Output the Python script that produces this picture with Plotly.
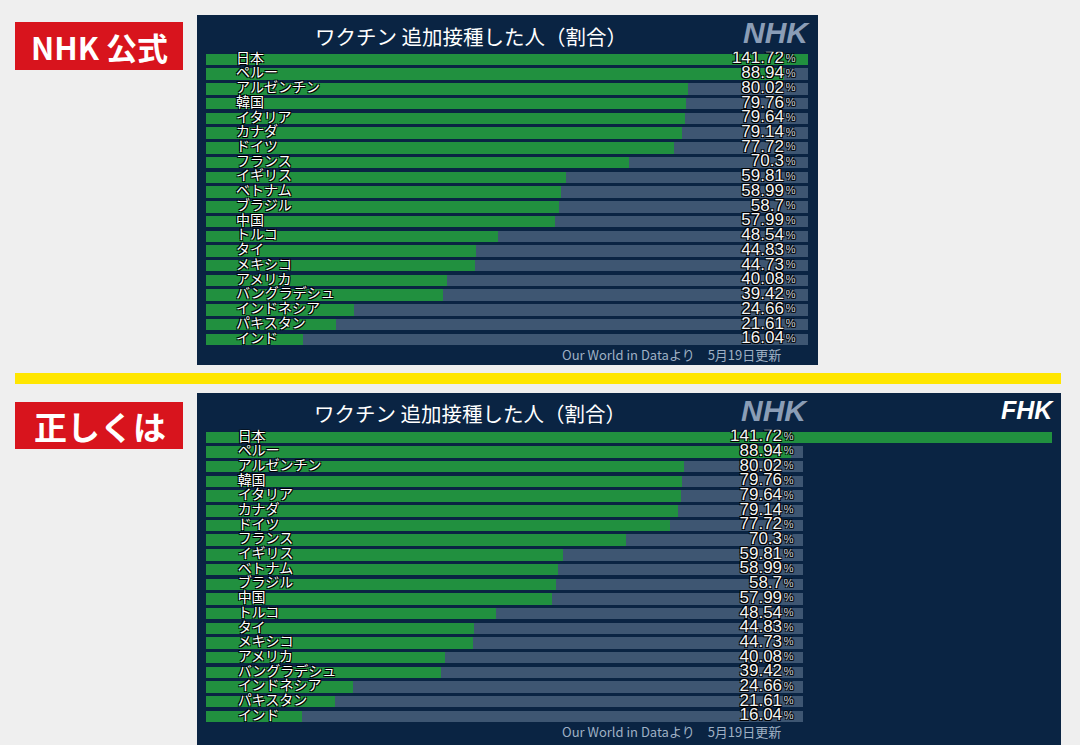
import plotly.graph_objects as go

W, H = 1080, 745

countries = ["日本", "ペルー", "アルゼンチン", "韓国", "イタリア", "カナダ", "ドイツ",
             "フランス", "イギリス", "ベトナム", "ブラジル", "中国", "トルコ", "タイ",
             "メキシコ", "アメリカ", "バングラデシュ", "インドネシア", "パキスタン", "インド"]
values = [141.72, 88.94, 80.02, 79.76, 79.64, 79.14, 77.72, 70.3, 59.81, 58.99,
          58.7, 57.99, 48.54, 44.83, 44.73, 40.08, 39.42, 24.66, 21.61, 16.04]
# bar lengths as actually drawn in each graphic (NHK capped Japan at 100)
drawn_top = [100, 96, 80.02, 79.76, 79.64, 79.14, 77.72, 70.3, 59.81, 58.99,
             58.7, 57.99, 48.54, 44.83, 44.73, 40.08, 39.42, 24.66, 21.61, 16.04]
drawn_bottom = [141.72, 98, 80.02, 79.76, 79.64, 79.14, 77.72, 70.3, 59.81, 58.99,
                58.7, 57.99, 48.54, 44.83, 44.73, 40.08, 39.42, 24.66, 21.61, 16.04]
track = [100] * len(countries)

NAVY = "#0a2443"
GREEN = "#21903f"
TRACK = "#3e5672"
JP = "Noto Sans CJK JP"
OUTLINE = "1px 1px 0 #000, -1px -1px 0 #000, 1px -1px 0 #000, -1px 1px 0 #000"


def px(x):
    return x / W


def py(y):
    return 1 - y / H


rows = list(range(len(countries)))
fig = go.Figure()


def add_chart(xa, ya, drawn, name_x, num_x, pct_x, track_rows):
    fig.add_trace(go.Bar(x=[track[i] for i in track_rows], y=track_rows, orientation="h",
                         marker=dict(color=TRACK, line=dict(width=0)), width=0.78,
                         xaxis=xa, yaxis=ya, hoverinfo="skip", showlegend=False))
    fig.add_trace(go.Bar(x=drawn, y=rows, orientation="h",
                         marker=dict(color=GREEN, line=dict(width=0)), width=0.78,
                         xaxis=xa, yaxis=ya, hoverinfo="skip", showlegend=False))
    fig.add_trace(go.Scatter(x=[name_x] * len(rows), y=rows, mode="text", text=countries,
                             textposition="middle right",
                             textfont=dict(family=JP, size=14, color="white", shadow=OUTLINE),
                             xaxis=xa, yaxis=ya, hoverinfo="skip", showlegend=False))
    fig.add_trace(go.Scatter(x=[num_x] * len(rows), y=rows, mode="text",
                             text=[f"{v:g}" for v in values], textposition="middle left",
                             textfont=dict(family="Liberation Sans Narrow, Liberation Sans", size=17,
                                           color="#f4f4f4", shadow=OUTLINE),
                             xaxis=xa, yaxis=ya, hoverinfo="skip", showlegend=False))
    fig.add_trace(go.Scatter(x=[pct_x] * len(rows), y=rows, mode="text",
                             text=["%"] * len(rows), textposition="middle right",
                             textfont=dict(family="Liberation Sans", size=11,
                                           color="#c9cfd6", shadow=OUTLINE),
                             xaxis=xa, yaxis=ya, hoverinfo="skip", showlegend=False))


# top: NHK official (track 0-100)
add_chart("x", "y", drawn_top, 5.0, 96.0, 96.3, rows)
# bottom: corrected (axis extends to show Japan's full bar)
add_chart("x2", "y2", drawn_bottom, 5.3, 96.5, 96.8, rows[1:])

shapes = [
    # panels
    dict(type="rect", xref="paper", yref="paper", x0=px(197), x1=px(818), y0=py(365), y1=py(15),
         fillcolor=NAVY, line=dict(width=0), layer="below"),
    dict(type="rect", xref="paper", yref="paper", x0=px(197), x1=px(1061), y0=py(745), y1=py(393),
         fillcolor=NAVY, line=dict(width=0), layer="below"),
    # yellow divider
    dict(type="rect", xref="paper", yref="paper", x0=px(15), x1=px(1061), y0=py(384), y1=py(373),
         fillcolor="#ffe600", line=dict(width=0)),
    # red labels
    dict(type="rect", xref="paper", yref="paper", x0=px(15), x1=px(183), y0=py(70), y1=py(22),
         fillcolor="#d8141d", line=dict(width=0)),
    dict(type="rect", xref="paper", yref="paper", x0=px(15), x1=px(183), y0=py(449), y1=py(402),
         fillcolor="#d8141d", line=dict(width=0)),
]

annotations = [
    dict(text="<b>NHK 公式</b>", x=px(99), y=py(46), font=dict(family=JP, size=31, color="white")),
    dict(text="<b>正しくは</b>", x=px(100), y=py(426), font=dict(family=JP, size=33, color="white")),
    dict(text="ワクチン 追加接種した人（割合）", x=px(471), y=py(36), font=dict(family=JP, size=20.5, color="white")),
    dict(text="ワクチン 追加接種した人（割合）", x=px(470), y=py(413), font=dict(family=JP, size=20.5, color="white")),
    dict(text="<b><i>NHK</i></b>", x=px(776), y=py(32),
         font=dict(family="Liberation Sans", size=30, color="#8a9db6")),
    dict(text="<b><i>NHK</i></b>", x=px(774), y=py(410),
         font=dict(family="Liberation Sans", size=30, color="#8a9db6")),
    dict(text="<b><i>FHK</i></b>", x=px(1027), y=py(410),
         font=dict(family="Liberation Sans", size=25, color="white")),
    dict(text="Our World in Dataより　5月19日更新", x=px(671), y=py(354),
         font=dict(family=JP, size=13, color="#9fb0c4")),
    dict(text="Our World in Dataより　5月19日更新", x=px(671), y=py(731),
         font=dict(family=JP, size=13, color="#9fb0c4")),
]
for a in annotations:
    a.update(xref="paper", yref="paper", showarrow=False, xanchor="center", yanchor="middle")

axis_common = dict(showgrid=False, zeroline=False, showticklabels=False, ticks="", fixedrange=True)

fig.update_layout(
    width=W, height=H,
    margin=dict(l=0, r=0, t=0, b=0),
    paper_bgcolor="#efefef",
    plot_bgcolor="rgba(0,0,0,0)",
    barmode="overlay",
    bargap=0,
    shapes=shapes,
    annotations=annotations,
    xaxis=dict(domain=[px(206), px(808)], range=[0, 100], anchor="y", **axis_common),
    yaxis=dict(domain=[py(346.5), py(51.7)], range=[19.5, -0.5], anchor="x", **axis_common),
    xaxis2=dict(domain=[px(206), px(1052)], range=[0, 141.72], anchor="y2", **axis_common),
    yaxis2=dict(domain=[py(723.5), py(429.7)], range=[19.5, -0.5], anchor="x2", **axis_common),
)

# drop the browser's default page margin so the figure fills the window
fig.write_html("out.html", config={"displayModeBar": False},
               post_script="document.body.style.margin='0';document.body.style.overflow='hidden';"
                           "document.body.style.background='#efefef';")
